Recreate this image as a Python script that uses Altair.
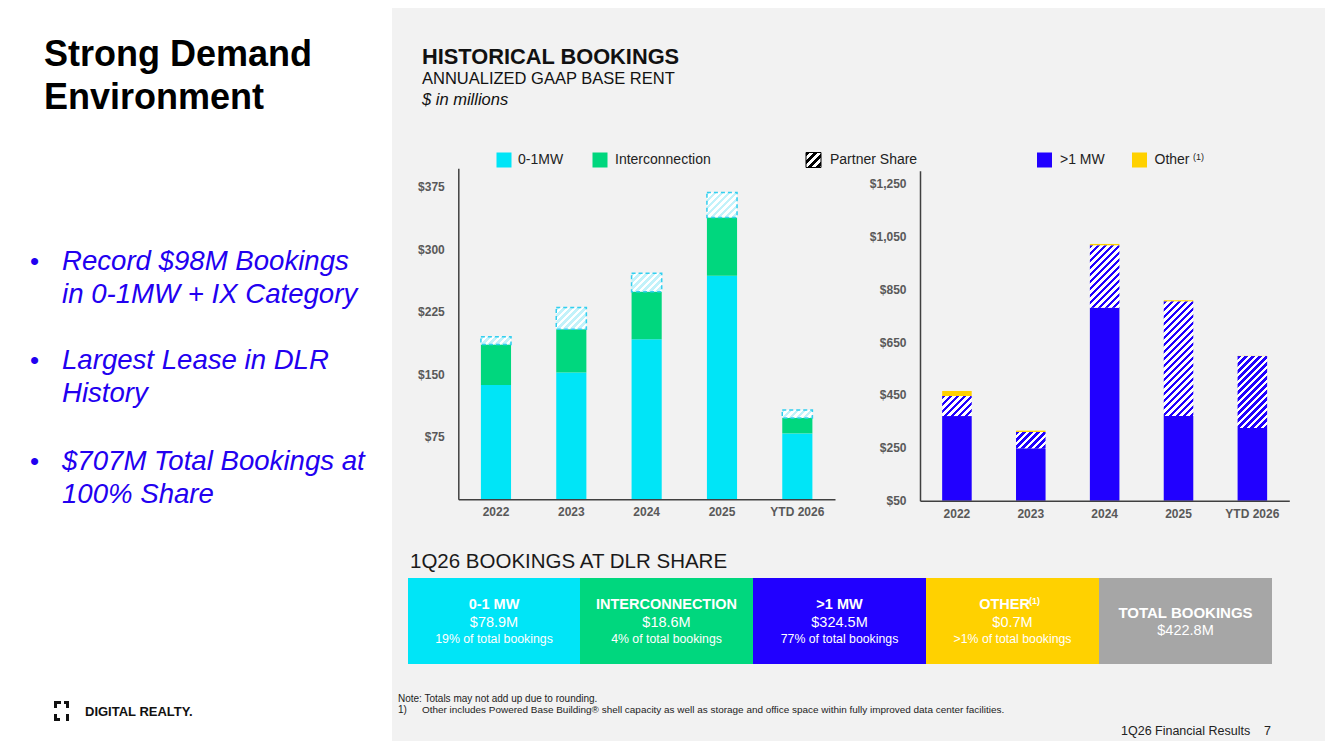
import altair as alt

# ------------------------------------------------------------------ data
years = ["2022", "2023", "2024", "2025", "YTD 2026"]

# left chart ($M): 0-1MW, Interconnection, Partner share
mw_small = [137.0, 152.0, 192.0, 268.0, 78.9]
interconnection = [48.6, 52.0, 57.0, 70.0, 18.6]
partner_small = [9.4, 26.0, 22.0, 30.0, 9.5]

# right chart ($M): >1 MW, Partner share, Other
mw_large = [370.0, 248.0, 780.0, 370.0, 324.5]
partner_large = [76.0, 62.0, 236.0, 434.0, 272.5]
other = [19.0, 5.0, 5.0, 4.0, 0.7]

left_ticks = [75, 150, 225, 300, 375]
right_ticks = [50, 250, 450, 650, 850, 1050, 1250]

legend_labels = ["0-1MW", "Interconnection", "Partner Share", ">1 MW", "Other"]

box_titles = ["0-1 MW", "INTERCONNECTION", ">1 MW", "OTHER", "TOTAL BOOKINGS"]
box_values = ["$78.9M", "$18.6M", "$324.5M", "$0.7M", "$422.8M"]
box_shares = ["19% of total bookings", "4% of total bookings",
              "77% of total bookings", ">1% of total bookings", ""]

bullets = [["Record $98M Bookings", "in 0-1MW + IX Category"],
           ["Largest Lease in DLR", "History"],
           ["$707M Total Bookings at", "100% Share"]]

# ------------------------------------------------------------------ style
W, H = 1317, 733
OFF = 8  # page margin
FONT = "Liberation Sans, Arial, Helvetica, sans-serif"
CYAN = "#00E5F7"
GREEN = "#00D77E"
BLUE = "#2100FF"
YELLOW = "#FFD100"
GREYBOX = "#A6A6A6"
PANEL = "#F2F2F2"
BULLET_BLUE = "#2200F0"
AXIS_LABEL = "#595959"
AXIS_LINE = "#404040"

BLANK = alt.Data(values=[{}])


def px(v):
    return v - OFF


def text(s, x, y, size, color="#111111", weight="normal", style="normal",
         align="left", font=FONT):
    return alt.Chart(BLANK).mark_text(
        font=font, fontSize=size, color=color, fontWeight=weight,
        fontStyle=style, align=align, baseline="middle"
    ).encode(x=alt.value(px(x)), y=alt.value(px(y)), text=alt.value(s))


def rect(x0, y0, x1, y1, **kw):
    return alt.Chart(BLANK).mark_rect(**kw).encode(
        x=alt.value(px(x0)), x2=alt.value(px(x1)),
        y=alt.value(px(y0)), y2=alt.value(px(y1)))


def hatch(w, h, c1, c2, period=7.0, frac=0.5):
    """Diagonal '/' stripes as a hard-stop linear gradient (bbox units)."""
    t = (w + h) / (w * w + h * h)
    n = (w + h) / period
    stops = []
    k = 0
    while k < n:
        a = k / n
        b = min((k + frac) / n, 1.0)
        c = min((k + 1) / n, 1.0)
        stops += [{"offset": a, "color": c1}, {"offset": b, "color": c1},
                  {"offset": b, "color": c2}, {"offset": c, "color": c2}]
        k += 1
    return {"gradient": "linear", "x1": 0, "y1": 0,
            "x2": t * w, "y2": t * h, "stops": stops}


# chart geometry (page pixels)
PI, PO = 0.6, 0.3
LX = (458.3, 835.0)
LY = (499.2, 168.3)
LDOM = [0, 397]
RX = (920.0, 1289.3)
RY = (500.7, 170.7)
RDOM = [50, 1298]

n = len(years)
l_bw = (LX[1] - LX[0]) / (n - PI + 2 * PO) * (1 - PI)
r_bw = (RX[1] - RX[0]) / (n - PI + 2 * PO) * (1 - PI)
l_ppu = (LY[0] - LY[1]) / (LDOM[1] - LDOM[0])
r_ppu = (RY[0] - RY[1]) / (RDOM[1] - RDOM[0])


def stacked(parts):
    out = {}
    base = [0.0] * n
    for name, vals in parts:
        recs = []
        for i, yr in enumerate(years):
            recs.append({"year": yr, "y0": base[i], "y1": base[i] + vals[i],
                         "value": vals[i]})
            base[i] += vals[i]
        out[name] = recs
    return out


left = stacked([("small", mw_small), ("ix", interconnection),
                ("partner", partner_small)])
right = stacked([("large", mw_large), ("partner", partner_large),
                 ("other", other)])

for r in left["partner"]:
    r["grad"] = hatch(l_bw, r["value"] * l_ppu, "#C2F2FA", "#FFFFFF")
for r in right["partner"]:
    r["grad"] = hatch(r_bw, r["value"] * r_ppu, BLUE, "#FFFFFF")

axis_common = dict(domainColor=AXIS_LINE, domainWidth=1.5, ticks=False,
                   grid=False, labelFont=FONT, labelFontSize=12,
                   labelFontWeight="bold", labelColor=AXIS_LABEL, zindex=2)

lxs = alt.Scale(domain=years, range=[px(LX[0]), px(LX[1])],
                paddingInner=PI, paddingOuter=PO)
lys = alt.Scale(domain=LDOM, range=[px(LY[0]), px(LY[1])], nice=False,
                zero=False, clamp=True)
rxs = alt.Scale(domain=years, range=[px(RX[0]), px(RX[1])],
                paddingInner=PI, paddingOuter=PO)
rys = alt.Scale(domain=RDOM, range=[px(RY[0]), px(RY[1])], nice=False,
                zero=False, clamp=True)

l_xaxis = alt.Axis(orient="bottom", offset=px(LY[0]) - H, labelAngle=0,
                   labelPadding=7, **axis_common)
l_yaxis = alt.Axis(orient="left", offset=-px(LX[0]), values=left_ticks,
                   format="$,.0f", labelPadding=14, **axis_common)
r_xaxis = alt.Axis(orient="bottom", offset=px(RY[0]) - H, labelAngle=0,
                   labelPadding=8, **axis_common)
r_yaxis = alt.Axis(orient="left", offset=-px(RX[0]), values=right_ticks,
                   format="$,.0f", labelPadding=14, **axis_common)


def bars(recs, xs, ys, xaxis=None, yaxis=None, grad=False, **mk):
    enc = dict(
        x=alt.X("year:N", scale=xs, axis=xaxis, title=None),
        y=alt.Y("y0:Q", scale=ys, axis=yaxis, title=None),
        y2=alt.Y2("y1:Q"),
    )
    if grad:
        enc["fill"] = alt.Fill("grad:N", scale=None)
    return alt.Chart(alt.Data(values=recs)).mark_bar(**mk).encode(**enc)


layers = []

# panel background
layers.append(rect(392, 0, 1340, 760, color=PANEL))

# left title + bullets
layers.append(text("Strong Demand", 44, 55, 36, color="#000000", weight="bold"))
layers.append(text("Environment", 44, 98, 36, color="#000000", weight="bold"))
bullet_y = [262, 361, 462]
for (l1, l2), by in zip(bullets, bullet_y):
    layers.append(text("•", 30, by, 26, color=BULLET_BLUE))
    layers.append(text(l1, 62, by, 27.6, color=BULLET_BLUE, style="italic"))
    layers.append(text(l2, 62, by + 33, 27.6, color=BULLET_BLUE, style="italic"))

# logo
for (a, b, c, d) in [(54, 701, 61, 704), (54, 701, 57, 708),
                     (54, 714, 57, 721), (54, 718, 60, 721),
                     (64, 701, 69, 704), (66, 701, 69, 708),
                     (66, 714, 69, 721)]:
    layers.append(rect(a, b, c, d, color="#111111"))
layers.append(text("DIGITAL REALTY.", 85, 712, 13, color="#111111", weight="bold"))

# headers
layers.append(text("HISTORICAL BOOKINGS", 422, 57, 21.8, weight="bold"))
layers.append(text("ANNUALIZED GAAP BASE RENT", 422, 79, 16.5))
layers.append(text("$ in millions", 422, 100, 16.5, style="italic"))

# legend
layers.append(rect(496.5, 152.5, 511.5, 167.5, color=CYAN))
layers.append(text(legend_labels[0], 518, 160, 14, color="#222222"))
layers.append(rect(592.5, 152.5, 607.5, 167.5, color=GREEN))
layers.append(text(legend_labels[1], 615, 160, 14, color="#222222"))
layers.append(rect(806, 152.5, 821, 167.5,
                   fill=hatch(15, 15, "#000000", "#FFFFFF", period=8),
                   stroke="#000000", strokeWidth=1))
layers.append(text(legend_labels[2], 830, 160, 14, color="#222222"))
layers.append(rect(1037, 152.5, 1052, 167.5, color=BLUE))
layers.append(text(legend_labels[3], 1060, 160, 14, color="#222222"))
layers.append(rect(1132, 152.5, 1147, 167.5, color=YELLOW))
layers.append(text(legend_labels[4], 1154.5, 160, 14, color="#222222"))
layers.append(text("(1)", 1193, 157, 9, color="#222222"))

# left chart bars
layers.append(bars(left["small"], lxs, lys, l_xaxis, l_yaxis, color=CYAN))
layers.append(bars(left["ix"], lxs, lys, color=GREEN))
layers.append(bars(left["partner"], lxs, lys, grad=True, stroke="#33CFEF",
                   strokeWidth=1.5, strokeDash=[4, 3]))

# right chart bars
layers.append(bars(right["large"], rxs, rys, r_xaxis, r_yaxis, color=BLUE))
layers.append(bars(right["partner"], rxs, rys, grad=True))
layers.append(bars(right["other"], rxs, rys, color=YELLOW))

# bookings at DLR share
layers.append(text("1Q26 BOOKINGS AT DLR SHARE", 410, 562, 20.5, color="#1a1a1a"))
box_x = [408, 580, 753, 926, 1099, 1272]
box_colors = [CYAN, GREEN, BLUE, YELLOW, GREYBOX]
for i in range(5):
    x0, x1 = box_x[i], box_x[i + 1]
    cx = (x0 + x1) / 2
    layers.append(rect(x0, 578, x1, 664, color=box_colors[i]))
    if i < 4:
        tx = cx - 8 if box_titles[i] == "OTHER" else cx
        layers.append(text(box_titles[i], tx, 604.5, 14.5, color="#FFFFFF",
                           weight="bold", align="center"))
        layers.append(text(box_values[i], cx, 622.5, 14.5, color="#FFFFFF",
                           align="center"))
        layers.append(text(box_shares[i], cx, 639, 12.3, color="#FFFFFF",
                           align="center"))
    else:
        layers.append(text(box_titles[i], cx, 613, 15, color="#FFFFFF",
                           weight="bold", align="center"))
        layers.append(text(box_values[i], cx, 631, 14.5, color="#FFFFFF",
                           align="center"))
layers.append(text("(1)", 1029, 601, 9, color="#FFFFFF", weight="bold"))

# footnotes
layers.append(text("Note: Totals may not add up due to rounding.", 398, 699, 10,
                   color="#222222"))
layers.append(text("1)", 398, 710, 10, color="#222222"))
layers.append(text(
    "Other includes Powered Base Building® shell capacity as well as storage "
    "and office space within fully improved data center facilities.",
    422, 710, 9.95, color="#222222"))
layers.append(text("1Q26 Financial Results", 1121, 731, 12.5, color="#222222"))
layers.append(text("7", 1264, 731, 12.5, color="#222222"))

chart = alt.layer(*layers).resolve_scale(
    x="independent", y="independent", fill="independent", color="independent"
).properties(
    width=W, height=H, padding=0, background="#FFFFFF",
    autosize=alt.AutoSizeParams(type="none"),
).configure_view(stroke=None)

chart.save("out.html", embed_options={"renderer": "svg", "actions": False})
